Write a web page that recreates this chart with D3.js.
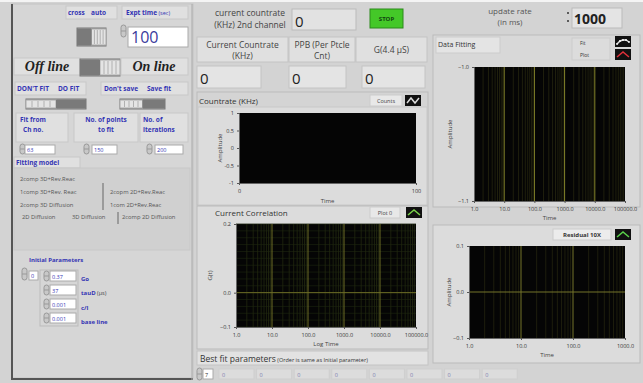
<!DOCTYPE html>
<html><head><meta charset="utf-8">
<script src="https://cdn.jsdelivr.net/npm/d3@7"></script>
<style>
html,body{margin:0;padding:0;background:#d3d3d3;}
svg{display:block;font-family:"Open Sans","Noto Sans",sans-serif;}
</style></head>
<body><svg id="c" width="643" height="383"></svg>
<script>
// ---------- data ----------
const fittingModels = [
  {name:"2comp 3D+Rev.Reac", col:0, row:0},
  {name:"1comp 3D+Rev. Reac", col:0, row:1},
  {name:"2copm 2D+Rev.Reac", col:1, row:1},
  {name:"2comp 3D Diffusion", col:0, row:2},
  {name:"1com 2D+Rev.Reac", col:1, row:2},
  {name:"2D Diffusion", col:0, row:3},
  {name:"3D Diffusion", col:2, row:3},
  {name:"2comp 2D Diffusion", col:3, row:3}
];
const initParamValues = ["0.37","37","0.001","0.001"];
const initParamNames = ["Go","tauD","c/l","base line"];
const bestFitValues = [0,0,0,0,0,0,0,0];
const fitFromCh = 63, pointsToFit = 150, iterations = 200;
const exptTime = 100, updateRate = 1000;
const currentValues = [0,0,0];
const currentHeaders = [["Current Countrate","(KHz)"],["PPB (Per Ptcle","Cnt)"],["G(4.4 µS)"]];
const countrateXTicks = [0,100];
const countrateYTicks = [-1,-0.5,0,0.5,1];
const corrXTicks = [1,10,100,1000,10000,100000];
const corrYTicks = [-0.1,0.0,0.2];
const fitXTicks = [1,10,100,1000,10000,100000];
const fitYTicks = [-1.1,-1.0];
const resXTicks = [1,10,100,1000];
const resYTicks = [-0.1,0.0,0.1];

const svg = d3.select("#c");
const BLUE = "#3434b4";
const PANEL = "#d6d6d6";

function box(x,y,w,h,fill,stroke){
  return svg.append("rect").attr("x",x).attr("y",y).attr("width",w).attr("height",h)
    .attr("fill",fill||"#e2e2e2").attr("stroke",stroke||"#bcbcbc").attr("stroke-width",1);
}
function txt(x,y,s,o){
  o=o||{};
  const t=svg.append("text").attr("x",x).attr("y",y).text(s)
    .attr("font-size",o.size||8).attr("fill",o.fill||"#333")
    .attr("font-weight",o.weight||"normal").attr("text-anchor",o.anchor||"start");
  if(o.family) t.attr("font-family",o.family);
  if(o.style) t.attr("font-style",o.style);
  return t;
}
function spinner(x,y,h){
  svg.append("rect").attr("x",x).attr("y",y).attr("width",5).attr("height",h||10).attr("rx",2.5)
    .attr("fill","#c8c8c8").attr("stroke","#999");
  svg.append("line").attr("x1",x).attr("x2",x+5).attr("y1",y+(h||10)/2).attr("y2",y+(h||10)/2).attr("stroke","#999");
}
function toggle(x,y,w,h,darkLeft){
  const half=w/2;
  box(x,y,w,h,"#9c9c9c","#777");
  const lx = darkLeft? x+half : x;
  svg.append("rect").attr("x",lx).attr("y",y+1).attr("width",half).attr("height",h-2).attr("fill","#e4e4e4").attr("stroke","#aaa");
  for(let i=1;i<5;i++) svg.append("line").attr("x1",lx+half*i/5).attr("x2",lx+half*i/5).attr("y1",y+2).attr("y2",y+h-2).attr("stroke","#b0b0b0");
  const dx = darkLeft? x : x+half;
  svg.append("rect").attr("x",dx).attr("y",y+1).attr("width",half).attr("height",h-2).attr("fill","#7a7a7a");
}

// background
svg.append("rect").attr("width",643).attr("height",383).attr("fill","#d3d3d3");
svg.append("line").attr("x1",0).attr("x2",643).attr("y1",1).attr("y2",1).attr("stroke","#f4f4f4").attr("stroke-width",2);

// ---------- left panel ----------
box(12,4,181,374,PANEL,"#c4c4c4");
svg.append("line").attr("x1",12).attr("x2",12).attr("y1",4).attr("y2",380).attr("stroke","#555").attr("stroke-width",2);
svg.append("line").attr("x1",12).attr("x2",193).attr("y1",379).attr("y2",379).attr("stroke","#555").attr("stroke-width",2);
svg.append("line").attr("x1",192).attr("x2",192).attr("y1",4).attr("y2",380).attr("stroke","#aaa");

box(66,6,51,13,"#e0e0e0","#c8c8c8");
txt(68,15,"cross",{size:6.5,fill:BLUE,weight:"bold"});
txt(91,15,"auto",{size:6.5,fill:BLUE,weight:"bold"});
box(122,6,66,13,"#e0e0e0","#c8c8c8");
txt(126,15,"Expt time",{size:6.5,fill:BLUE,weight:"bold"}).append("tspan").text(" (sec)").attr("font-weight","normal").attr("font-size",5.5);
toggle(77,28,29,18,true);
spinner(121,25,12);
box(128,27,60,20,"#ffffff","#aaa");
txt(131,43,String(exptTime),{size:16,fill:"#3a3a9c"});

box(14,58,66,17,"#e0e0e0","#c8c8c8");
txt(47,71,"Off line",{size:14,family:"Liberation Serif",style:"italic",weight:"bold",anchor:"middle",fill:"#222"});
toggle(80,59,40,17,true);
box(121,58,67,17,"#e0e0e0","#c8c8c8");
txt(154,71,"On line",{size:14,family:"Liberation Serif",style:"italic",weight:"bold",anchor:"middle",fill:"#222"});

box(15,82,71,13,"#e0e0e0","#c8c8c8");
txt(17,91,"DON'T FIT",{size:6.5,fill:BLUE,weight:"bold"});
txt(58,91,"DO FIT",{size:6.5,fill:BLUE,weight:"bold"});
box(101,82,87,13,"#e0e0e0","#c8c8c8");
txt(104,91,"Don't save",{size:6.5,fill:BLUE,weight:"bold"});
txt(147,91,"Save fit",{size:6.5,fill:BLUE,weight:"bold"});
toggle(26,99,60,10,false);
toggle(120,99,45,10,false);

box(16,113,52,29,"#e0e0e0","#c8c8c8");
txt(20,122,"Fit from",{size:6.5,fill:BLUE,weight:"bold"});
txt(23,132,"Ch no.",{size:6.5,fill:BLUE,weight:"bold"});
box(74,113,64,29,"#e0e0e0","#c8c8c8");
txt(106,122,"No. of points",{size:6.5,fill:BLUE,weight:"bold",anchor:"middle"});
txt(106,132,"to  fit",{size:6.5,fill:BLUE,weight:"bold",anchor:"middle"});
box(140,113,48,29,"#e0e0e0","#c8c8c8");
txt(143,122,"No. of",{size:6.5,fill:BLUE,weight:"bold"});
txt(143,132,"iterations",{size:6.5,fill:BLUE,weight:"bold"});

[[20,25,30,fitFromCh],[84,92,25,pointsToFit],[147,155,28,iterations]].forEach(d=>{
  spinner(d[0],144,10);
  box(d[1],145,d[2],9,"#ffffff","#aaa");
  txt(d[1]+2,152,String(d[3]),{size:5.5,fill:BLUE});
});

box(14,157,66,11,"#e0e0e0","#c8c8c8");
txt(16,165,"Fitting model",{size:6.5,fill:BLUE,weight:"bold"});
box(14,168,176,82,"#d0d0d0","#c8c8c8");
const modelX = [20,110,72,122], modelY=[181,194,207,219];
fittingModels.forEach(m=>{
  const x = (m.row===3 && m.col===0)?22:modelX[m.col];
  txt(x,modelY[m.row],m.name,{size:5.8,fill:"#555"});
});
svg.append("line").attr("x1",103).attr("x2",103).attr("y1",183).attr("y2",210).attr("stroke","#666");
svg.append("line").attr("x1",118).attr("x2",118).attr("y1",212).attr("y2",224).attr("stroke","#666");

txt(29,262,"Initial Parameters",{size:6,fill:BLUE,weight:"bold"});
spinner(22,268,12);
box(29,271,9,9,"#ffffff","#aaa");
txt(31,278,"0",{size:5.5,fill:BLUE});
svg.append("rect").attr("x",40).attr("y",270).attr("width",38).attr("height",56).attr("fill","none").attr("stroke","#bbb");
initParamValues.forEach((v,i)=>{
  const y=271+i*14;
  spinner(44,y,10);
  box(50,y,26,10,"#ffffff","#aaa");
  txt(52,y+8,v,{size:5.5,fill:BLUE});
});
initParamNames.forEach((n,i)=>{
  const t=txt(81,281+i*14.3,n,{size:6,fill:BLUE,weight:"bold"});
  if(n==="tauD") t.append("tspan").text(" (µs)").attr("fill","#444").attr("font-weight","normal").attr("font-size",5.5);
});

// ---------- middle top ----------
txt(250,16,"current countrate",{size:8.5,anchor:"middle",fill:"#444"});
txt(250,28,"(KHz) 2nd channel",{size:8.5,anchor:"middle",fill:"#444"});
box(292,9,64,21,"#e2e2e2","#bbb");
txt(295,27,"0",{size:15,fill:"#222"});
box(370,9,33,19,"#44c828","#2a8a1a");
txt(386.5,21,"STOP",{size:6,anchor:"middle",weight:"bold",fill:"#114411"});

const hdrX=[[197,91],[289,66],[356,71]];
currentHeaders.forEach((h,i)=>{
  box(hdrX[i][0],37,hdrX[i][1],25,"#e0e0e0","#c4c4c4");
  const cx=hdrX[i][0]+hdrX[i][1]/2;
  if(h.length===2){
    txt(cx,48,h[0],{size:8.5,anchor:"middle",fill:"#444"});
    txt(cx,59,h[1],{size:8.5,anchor:"middle",fill:"#444"});
  } else txt(cx,53,h[0],{size:8.5,anchor:"middle",fill:"#444"});
});
[[197,64],[289,57],[362,63]].forEach((b,i)=>{
  box(b[0],66,b[1],22,"#e4e4e4","#c4c4c4");
  txt(b[0]+3,84,String(currentValues[i]),{size:15,fill:"#222"});
});

// ---------- generic chart ----------
function legend(x,y,w,label){
  box(x,y,w,11,"#e8e8e8","#ccc");
  txt(x+w/2,y+8,label,{size:5.5,anchor:"middle",fill:"#444",weight:label.startsWith("Residual")?"bold":"normal"});
}
function icon(x,y,color,kind){
  svg.append("rect").attr("x",x).attr("y",y).attr("width",16).attr("height",11).attr("fill","#111");
  let pts;
  if(kind==="chev") pts=[[x+2,y+8],[x+8,y+3],[x+14,y+8]];
  else if(kind==="wave") pts=[[x+2,y+8],[x+6,y+3],[x+10,y+8],[x+14,y+3]];
  else pts=[[x+2,y+8],[x+5,y+5],[x+8,y+4],[x+11,y+4],[x+14,y+6]];
  svg.append("path").attr("d",d3.line()(pts)).attr("fill","none").attr("stroke",color).attr("stroke-width",1.5);
  if(kind==="dots") pts.forEach(p=>svg.append("circle").attr("cx",p[0]).attr("cy",p[1]).attr("r",0.9).attr("fill","#fff"));
}

function chart(o){
  const g=svg.append("g");
  const x = o.log? d3.scaleLog().domain(o.xd).range([o.x0,o.x1]) : d3.scaleLinear().domain(o.xd).range([o.x0,o.x1]);
  const y = d3.scaleLinear().domain(o.yd).range([o.y1,o.y0]);
  g.append("rect").attr("x",o.x0).attr("y",o.y0).attr("width",o.x1-o.x0).attr("height",o.y1-o.y0).attr("fill","#050505");
  if(o.hminor){
    g.selectAll(null).data(o.hminor).enter().append("line")
      .attr("x1",o.x0).attr("x2",o.x1).attr("y1",d=>y(d)).attr("y2",d=>y(d))
      .attr("stroke","#18200e").attr("stroke-width",0.8);
  }
  if(o.log && o.vgrid){
    const minor=[];
    for(let d=o.xd[0]; d<o.xd[1]; d*=10) for(let k=2;k<10;k++) minor.push(d*k);
    g.selectAll(null).data(minor).enter().append("line")
      .attr("x1",d=>x(d)).attr("x2",d=>x(d)).attr("y1",o.y0).attr("y2",o.y1)
      .attr("stroke",o.minorColor||"#22280f").attr("stroke-width",0.8);
    g.selectAll(null).data(o.xt.slice(1,-1)).enter().append("line")
      .attr("x1",d=>x(d)).attr("x2",d=>x(d)).attr("y1",o.y0).attr("y2",o.y1)
      .attr("stroke",o.majorColor||"#6e6e26").attr("stroke-width",1);
  }
  if(o.hmajor){
    g.selectAll(null).data(o.hmajor).enter().append("line")
      .attr("x1",o.x0).attr("x2",o.x1).attr("y1",d=>y(d)).attr("y2",d=>y(d))
      .attr("stroke",o.majorColor||"#6e6e26").attr("stroke-width",1);
  }
  const xa = d3.axisBottom(x).tickValues(o.xt).tickSize(2).tickFormat(o.xf);
  const ya = d3.axisLeft(y).tickValues(o.yt).tickSize(2).tickFormat(o.yf);
  const gx=g.append("g").attr("transform",`translate(0,${o.y1})`).call(xa);
  const gy=g.append("g").attr("transform",`translate(${o.x0},0)`).call(ya);
  [gx,gy].forEach(a=>{
    a.select(".domain").attr("stroke","#666");
    a.selectAll(".tick line").attr("stroke","#555");
    a.selectAll("text").attr("font-size",5.5).attr("fill","#333").attr("font-family","Open Sans, sans-serif");
  });
  gx.selectAll("text").attr("dy","0.9em");
  g.append("text").attr("x",(o.x0+o.x1)/2).attr("y",o.xly).attr("text-anchor","middle").attr("font-size",6).attr("fill","#444").text(o.xl);
  g.append("text").attr("transform",`translate(${o.ylx},${(o.y0+o.y1)/2}) rotate(-90)`).attr("text-anchor","middle").attr("font-size",6).attr("fill","#444").text(o.yl);
}

// Countrate chart
box(197,92,231,113,"#d4d4d4","#bbb");
txt(199,104,"Countrate (KHz)",{size:8,fill:"#333"});
box(198,107,229,98,"#dcdcdc","#c8c8c8");
legend(370,95,32,"Counts");
icon(405,95,"#ddd","wave");
chart({x0:239,x1:416,y0:113,y1:183,xd:[0,100],yd:[-1,1],xt:countrateXTicks,yt:countrateYTicks,
  xf:d3.format("d"),yf:d=>String(d),xl:"Time",xly:203,yl:"Amplitude",ylx:222});

// Correlation chart
box(197,206,231,143,"#dcdcdc","#bbb");
txt(215,216,"Current Correlation",{size:8,fill:"#333"});
legend(370,207,30,"Plot 0");
icon(406,207,"#7ad24a","chev");
const corrMinor=d3.range(-0.1,0.2001,0.02);
chart({x0:236,x1:416,y0:224,y1:327,xd:[1,100000],yd:[-0.1,0.2],log:true,vgrid:true,
  xt:corrXTicks,yt:corrYTicks,xf:d3.format(".1f"),yf:d3.format(".1f"),
  hminor:corrMinor,hmajor:[0.0],xl:"Log Time",xly:346,yl:"G(t)",ylx:212});

// Best fit
box(197,351,231,14,"#e2e2e2","#c4c4c4");
txt(200,362,"Best fit parameters",{size:8.5,fill:"#333"}).append("tspan").text("  (Order is same as Initial parameter)").attr("font-size",5.5);
spinner(197,368,12);
box(203,369,10,10,"#ffffff","#aaa");
txt(205,377,"7",{size:5.5,fill:"#333"});
bestFitValues.forEach((v,i)=>{
  const x=219+i*37.6;
  box(x,369,35,10,"#dcdcdc","#cfcfcf");
  txt(x+3,377,String(v),{size:5.5,fill:"#7a7ab0"});
});

// ---------- right column ----------
txt(510,14,"update rate",{size:8,anchor:"middle",fill:"#555"});
txt(510,25,"(in ms)",{size:8,anchor:"middle",fill:"#555"});
svg.append("circle").attr("cx",568).attr("cy",13).attr("r",1).attr("fill","#333");
svg.append("circle").attr("cx",568).attr("cy",21).attr("r",1).attr("fill","#333");
box(572,8,50,20,"#e4e4e4","#bbb");
txt(574,24,String(updateRate),{size:14,weight:"bold",fill:"#222"});

box(433,35,207,172,"#d8d8d8","#bbb");
box(436,37,64,16,"#e4e4e4","#ccc");
txt(438,47,"Data Fitting",{size:7,fill:"#333"});
box(572,38,38,22,"#dcdcdc","#ccc");
txt(580,45,"Fit",{size:5,fill:"#333"});
txt(580,57,"Plot",{size:5,fill:"#333"});
icon(615,36,"#ddd","dots");
icon(615,49,"#e0303a","chev");
chart({x0:474,x1:625,y0:67,y1:201,xd:[1,100000],yd:[-1.1,-1.0],log:true,vgrid:true,
  minorColor:"#26260f",majorColor:"#85852a",
  xt:fitXTicks,yt:fitYTicks,xf:d3.format(".1f"),yf:d3.format(".1f"),xl:"Time",xly:220,yl:"Amplitude",ylx:452});

box(433,225,207,138,"#dcdcdc","#bbb");
box(553,229,58,11,"#ececec","#ccc");
txt(582,237,"Residual 10X",{size:6,anchor:"middle",weight:"bold",fill:"#333"});
icon(615,229,"#5ad24a","chev");
chart({x0:469,x1:625,y0:246,y1:338,xd:[1,1000],yd:[-0.1,0.1],log:true,vgrid:true,
  minorColor:"#24240f",majorColor:"#75752a",
  xt:resXTicks,yt:resYTicks,xf:d3.format(".1f"),yf:d3.format(".1f"),hmajor:[0.0],
  xl:"Time",xly:357,yl:"Amplitude",ylx:451});
</script></body></html>
